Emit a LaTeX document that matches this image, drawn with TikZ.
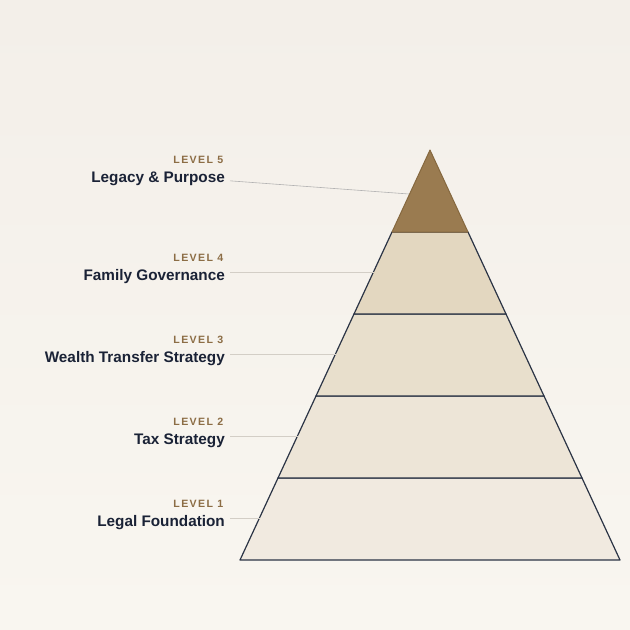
\documentclass[tikz,border=0pt]{standalone}
\usepackage{fontspec}
\setmainfont{Liberation Sans}
\newfontfamily\levelfont[LetterSpace=13]{Liberation Sans}
\usetikzlibrary{arrows.meta}

\definecolor{bgtop}{HTML}{F3EFE9}
\definecolor{bgbot}{HTML}{F9F6F0}
\definecolor{bandone}{HTML}{F1EAE0}
\definecolor{bandtwo}{HTML}{EDE5D7}
\definecolor{bandthree}{HTML}{E8DFCC}
\definecolor{bandfour}{HTML}{E3D7C0}
\definecolor{apexfill}{HTML}{9A7B50}
\definecolor{apexline}{HTML}{85683F}
\definecolor{edgeline}{HTML}{2B3445}
\definecolor{levelbrown}{HTML}{8C6D45}
\definecolor{titlenavy}{HTML}{1A2236}
\definecolor{leadgray}{HTML}{D3CEC6}

\tikzset{
  band/.style={draw=edgeline, line width=1.2pt, line join=round},
  levelname/.style={anchor=base east, inner sep=0pt, text=levelbrown, font=\levelfont\bfseries\fontsize{10.6}{11}\selectfont},
  leveltitle/.style={anchor=base east, inner sep=0pt, text=titlenavy, font=\bfseries\fontsize{15.3}{17}\selectfont},
  lead/.style={draw=leadgray, line width=1.2pt},
}

\begin{document}
\begin{tikzpicture}[x=1pt, y=-1pt]
  \useasboundingbox (0,0) rectangle (630,630);
  \shade[top color=bgtop, bottom color=bgbot] (0,0) rectangle (630,630);

  % pyramid bands
  \filldraw[band, fill=bandone] (240,560) -- (620,560) -- (582,478) -- (278,478) -- cycle;
  \filldraw[band, fill=bandtwo] (278,478) -- (582,478) -- (544,396) -- (316,396) -- cycle;
  \filldraw[band, fill=bandthree] (316,396) -- (544,396) -- (506,314) -- (354,314) -- cycle;
  \filldraw[band, fill=bandfour] (354,314) -- (506,314) -- (468,232) -- (392,232) -- cycle;
  \filldraw[fill=apexfill, draw=apexline, line width=1pt, line join=round] (392,232) -- (468,232) -- (430,150) -- cycle;

  % labels
  \node[levelname] (n5) at (223.5,163) {LEVEL 5};
  \node[leveltitle] (t5) at (225,182) {Legacy \& Purpose};
  \node[levelname] (n4) at (223.5,261) {LEVEL 4};
  \node[leveltitle] (t4) at (225,280) {Family Governance};
  \node[levelname] (n3) at (223.5,343) {LEVEL 3};
  \node[leveltitle] (t3) at (225,362) {Wealth Transfer Strategy};
  \node[levelname] (n2) at (223.5,425) {LEVEL 2};
  \node[leveltitle] (t2) at (225,444) {Tax Strategy};
  \node[levelname] (n1) at (223.5,507) {LEVEL 1};
  \node[leveltitle] (t1) at (225,526) {Legal Foundation};

  % leader lines
  \coordinate (e5) at (409,194);
  \coordinate (e4) at (373.5,272.5);
  \coordinate (e3) at (335.5,354.5);
  \coordinate (e2) at (297.5,436.5);
  \coordinate (e1) at (259.5,518.5);
  \draw[draw=gray!60, line width=0.6pt] ([xshift=5, yshift=-2.5]t5.east) -- (e5);
  \draw[lead] ([xshift=5]t4.east |- e4) -- (e4);
  \draw[lead] ([xshift=5]t3.east |- e3) -- (e3);
  \draw[lead] ([xshift=5]t2.east |- e2) -- (e2);
  \draw[lead] ([xshift=5]t1.east |- e1) -- (e1);
\end{tikzpicture}
\end{document}
